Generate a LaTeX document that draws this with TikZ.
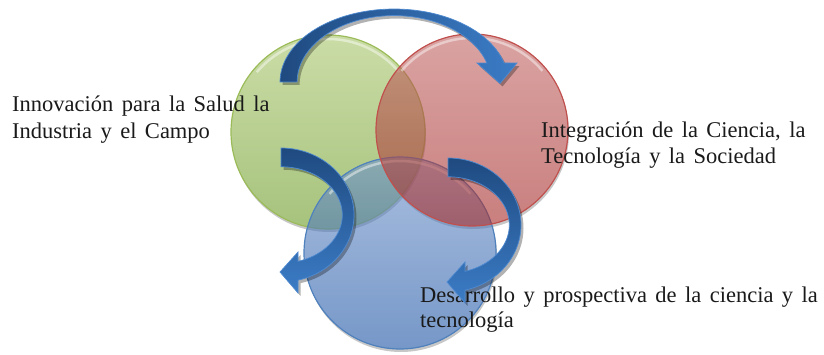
\documentclass[tikz,border=0pt]{standalone}
\usepackage{fontspec}
\setmainfont{Liberation Serif}[WordSpace=1.5]
\definecolor{gtop}{HTML}{A8C56B}
\definecolor{gbot}{HTML}{6A9A25}
\definecolor{gline}{HTML}{9BBB59}
\definecolor{rtop}{HTML}{C06664}
\definecolor{rbot}{HTML}{A52A28}
\definecolor{rline}{HTML}{C0504D}
\definecolor{btop}{HTML}{7093CA}
\definecolor{bbot}{HTML}{1A52A3}
\definecolor{bline}{HTML}{4F81BD}
\definecolor{adark}{HTML}{1F4A80}
\definecolor{alight}{HTML}{3B7CC6}
\definecolor{aedge}{HTML}{4F8AD0}
\definecolor{txt}{HTML}{1A1A1A}
\tikzset{
  ring/.style={circle, inner sep=0pt, minimum size=#1, fill opacity=0.6, draw opacity=1, line width=1.2pt},
  txtlabel/.style={anchor=base west, align=left, text=txt, inner sep=0pt},
  arrowpath/.style={insert path={plot[domain=\ArT:\ArBo, samples=60] ({cos(\x)},{sin(\x)})
     -- (\HoX,\HoY) -- (\TpX,\TpY) -- (\HiX,\HiY)
     -- plot[domain=\ArBi:\ArT, samples=60] ({\ArIx*cos(\x)},{\ArIy*sin(\x)}) -- cycle}},
  shadeA/.style={left color=adark, right color=alight},
  shadeB/.style={top color=adark, bottom color=alight},
  glint/.style={white, opacity=0.45, line width=2.5pt},
}
\newcommand{\carrow}[5]{%
  \begin{scope}[shift={(#1+2.5,#2-3)}, xscale=#3, yscale=#4]
    \fill[black, opacity=0.3, arrowpath];
  \end{scope}
  \begin{scope}[shift={(#1,#2)}, xscale=#3, yscale=#4]
    \shade[#5, draw=aedge, line width=0.7pt, arrowpath];
  \end{scope}}
\newcommand{\ringshadow}[3]{%
  \begin{scope}[even odd rule]
    \clip (0,0) rectangle (824,354) (#1,#2) circle[radius=#3];
    \fill[black, opacity=0.22] (#1+1,#2-3) circle[radius=#3];
  \end{scope}}
\begin{document}
\begin{tikzpicture}[x=1pt, y=1pt]
  \useasboundingbox (0,0) rectangle (824,354);
  % circle shadows
  \ringshadow{328}{222}{97}
  \ringshadow{400}{101}{96}
  \ringshadow{472}{224}{96}
  % circles
  \node[ring=194pt, top color=gtop, bottom color=gbot, draw=gline] (green) at (328,222) {};
  \draw[glint] ([shift={(40:93)}]green.center) arc[start angle=40, end angle=140, radius=93];
  \node[ring=192pt, top color=btop, bottom color=bbot, draw=bline] (blue) at (400,101) {};
  \draw[glint] ([shift={(40:92)}]blue.center) arc[start angle=40, end angle=140, radius=92];
  \node[ring=192pt, top color=rtop, bottom color=rbot, draw=rline] (red) at (472,224) {};
  \draw[glint] ([shift={(40:92)}]red.center) arc[start angle=40, end angle=140, radius=92];
  % texts
  \node[txtlabel, font=\fontsize{22.5}{27}\selectfont] (t1) at (12,215)
    {Innovación para la Salud la\\Industria y el Campo};
  \node[txtlabel, font=\fontsize{22.5}{26}\selectfont] (t2) at (541,191)
    {Integración de la Ciencia, la\\Tecnología y la Sociedad};
  \node[txtlabel, font=\fontsize{22.5}{25}\selectfont] (t3) at (420,27)
    {Desarrollo y prospectiva de la ciencia y la\\tecnología};
  % arrows
  \def\ArT{180}\def\ArBo{15.1}\def\ArBi{16.6}\def\ArIx{0.85}\def\ArIy{0.91}
  \def\HoX{1.079}\def\HoY{0.26}\def\TpX{0.93}\def\TpY{-0.02}\def\HiX{0.728}\def\HiY{0.26}
  \carrow{394}{272}{114}{73}{shadeA}
  \def\ArT{90}\def\ArBo{-76.5}\def\ArBi{-73.9}\def\ArIx{0.84}\def\ArIy{0.72}
  \def\HoX{0.233}\def\HoY{-1.164}\def\TpX{-0.014}\def\TpY{-0.851}\def\HiX{0.233}\def\HiY{-0.552}
  \carrow{281}{139}{73}{67}{shadeB}
  \carrow{448}{129}{73}{67}{shadeB}
\end{tikzpicture}
\end{document}
